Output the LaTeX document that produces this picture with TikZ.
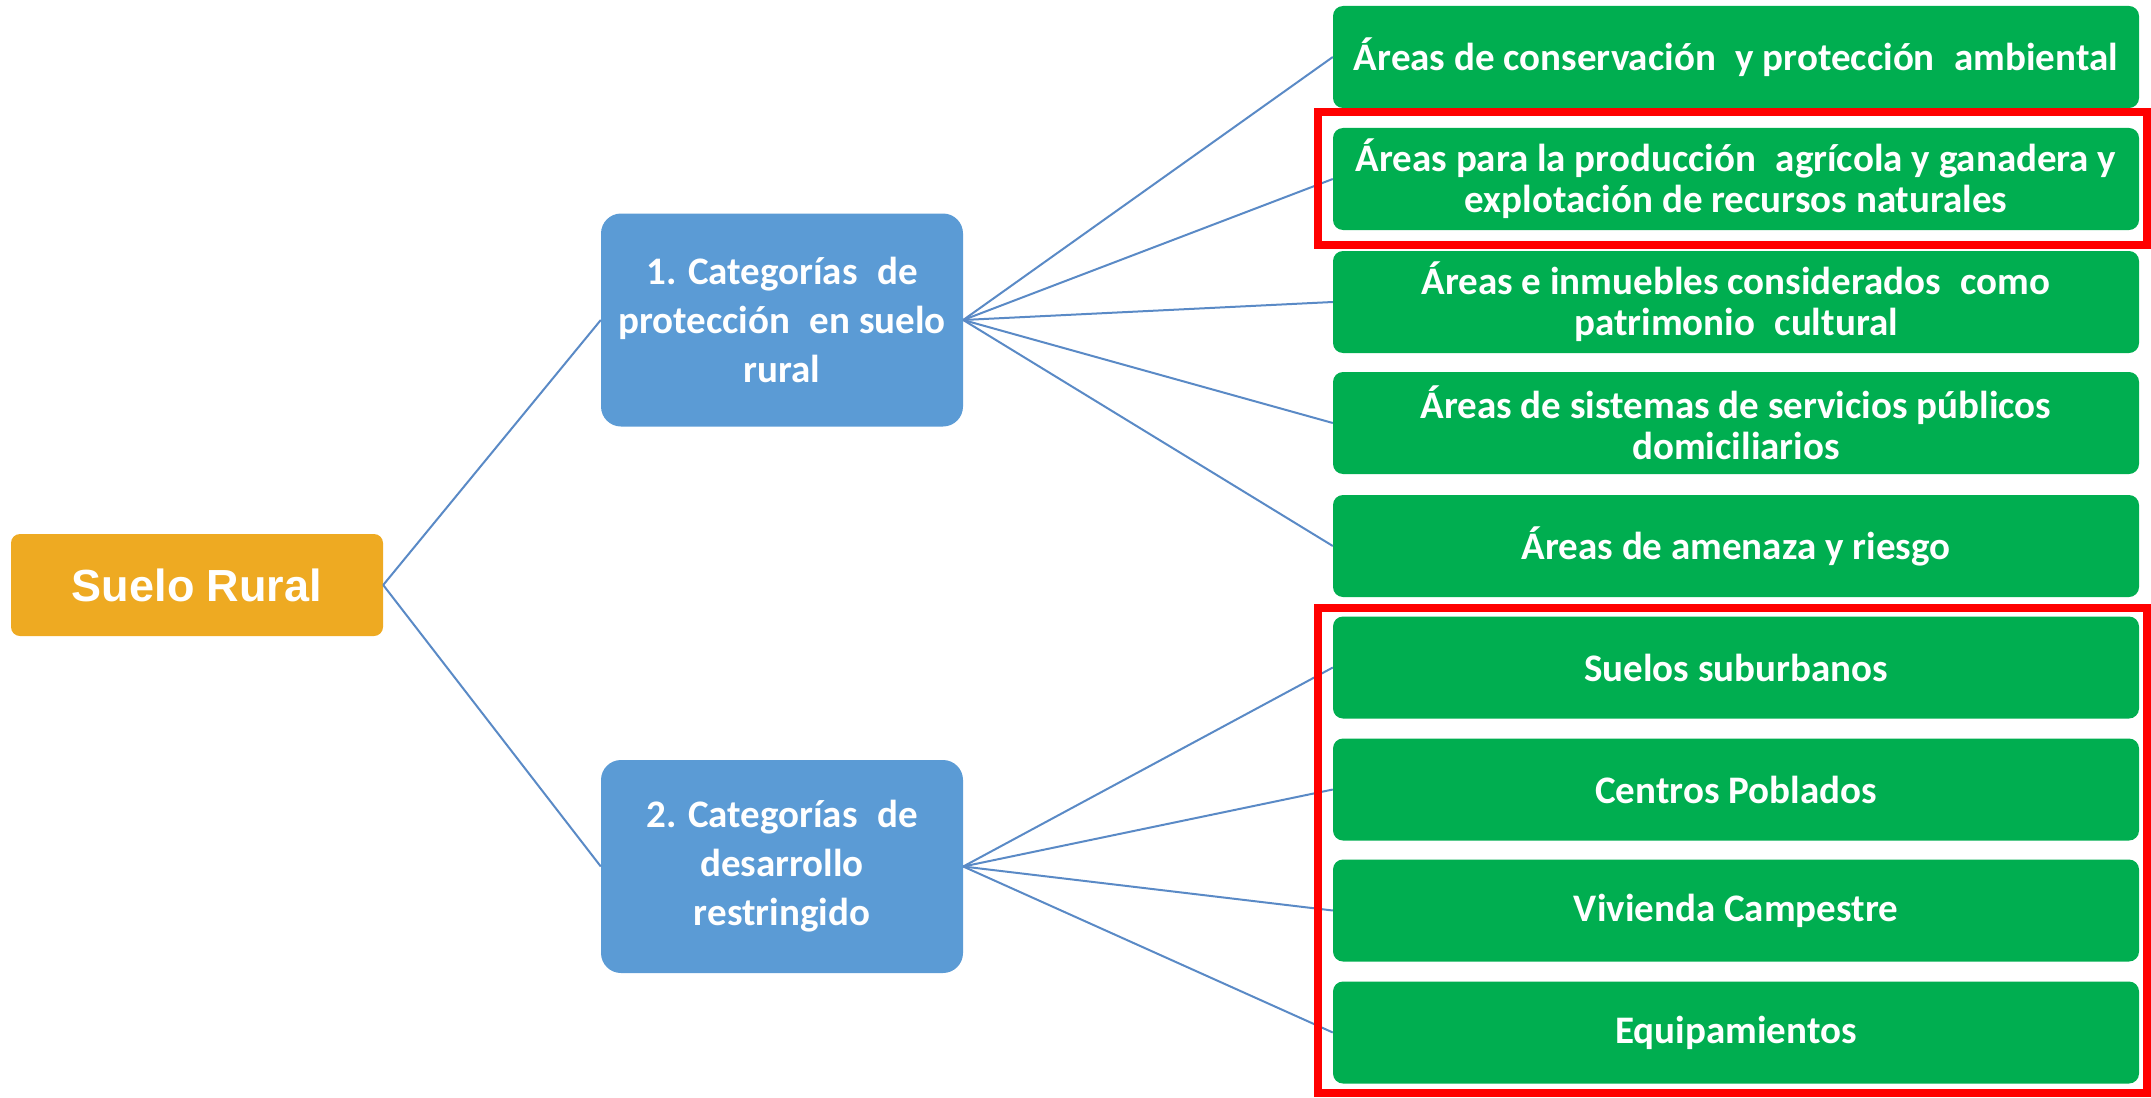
\documentclass[tikz,border=0pt]{standalone}
\usepackage{fontspec}
\setmainfont{Carlito}
\newfontfamily\arialfont{Liberation Sans}
\definecolor{orangebox}{HTML}{EEAA22}
\definecolor{bluebox}{HTML}{5B9BD5}
\definecolor{greenbox}{HTML}{00AE50}
\definecolor{linkblue}{HTML}{5A8AC6}
\begin{document}
\begin{tikzpicture}[x=1pt,y=-1pt,
  rootbox/.style={rectangle,rounded corners=9pt,fill=orangebox,text=white,
    minimum width=372pt,minimum height=102pt,inner sep=0pt,
    font=\arialfont\bfseries\fontsize{45}{50}\selectfont},
  catbox/.style={rectangle,rounded corners=20pt,fill=bluebox,text=white,
    minimum width=362pt,minimum height=213pt,inner sep=0pt,align=center,
    font=\bfseries\fontsize{39}{49}\selectfont},
  leafbox/.style={rectangle,rounded corners=10pt,fill=greenbox,text=white,
    minimum width=806pt,minimum height=102pt,inner sep=0pt,align=center,
    font=\bfseries\fontsize{39}{41}\selectfont},
  link/.style={draw=linkblue,line width=2pt},
  highlight/.style={draw=red,line width=8pt}]
\useasboundingbox (0,0) rectangle (2151,1097);

\node[rootbox] (root) at (197,585) {Suelo Rural};
\node[catbox] (c1) at (782,320) {1. Categorías\enspace de\\protección\enspace en suelo\\rural};
\node[catbox] (c2) at (782,866.5) {2. Categorías\enspace de\\desarrollo\\restringido};

\node[leafbox] (g1) at (1736,57) {Áreas de conservación\enspace y protección\enspace ambiental};
\node[leafbox] (g2) at (1736,179) {Áreas para la producción\enspace agrícola y ganadera y\\explotación de recursos naturales};
\node[leafbox] (g3) at (1736,302) {Áreas e inmuebles considerados\enspace como\\patrimonio\enspace cultural};
\node[leafbox] (g4) at (1736,423) {Áreas de sistemas de servicios públicos\\domiciliarios};
\node[leafbox] (g5) at (1736,546) {Áreas de amenaza y riesgo};
\node[leafbox] (g6) at (1736,667.5) {Suelos suburbanos};
\node[leafbox] (g7) at (1736,789.5) {Centros Poblados};
\node[leafbox] (g8) at (1736,910.5) {Vivienda Campestre};
\node[leafbox] (g9) at (1736,1032.5) {Equipamientos};

\draw[link] (root.east) -- (c1.west);
\draw[link] (root.east) -- (c2.west);
\foreach \g in {g1,g2,g3,g4,g5} \draw[link] (c1.east) -- (\g.west);
\foreach \g in {g6,g7,g8,g9} \draw[link] (c2.east) -- (\g.west);

\coordinate (r1a) at (1317.5,112);
\coordinate (r1b) at (2147,245);
\coordinate (r2a) at (1317.5,608);
\coordinate (r2b) at (2147,1093);
\draw[highlight] (r1a) rectangle (r1b);
\draw[highlight] (r2a) rectangle (r2b);
\end{tikzpicture}
\end{document}
